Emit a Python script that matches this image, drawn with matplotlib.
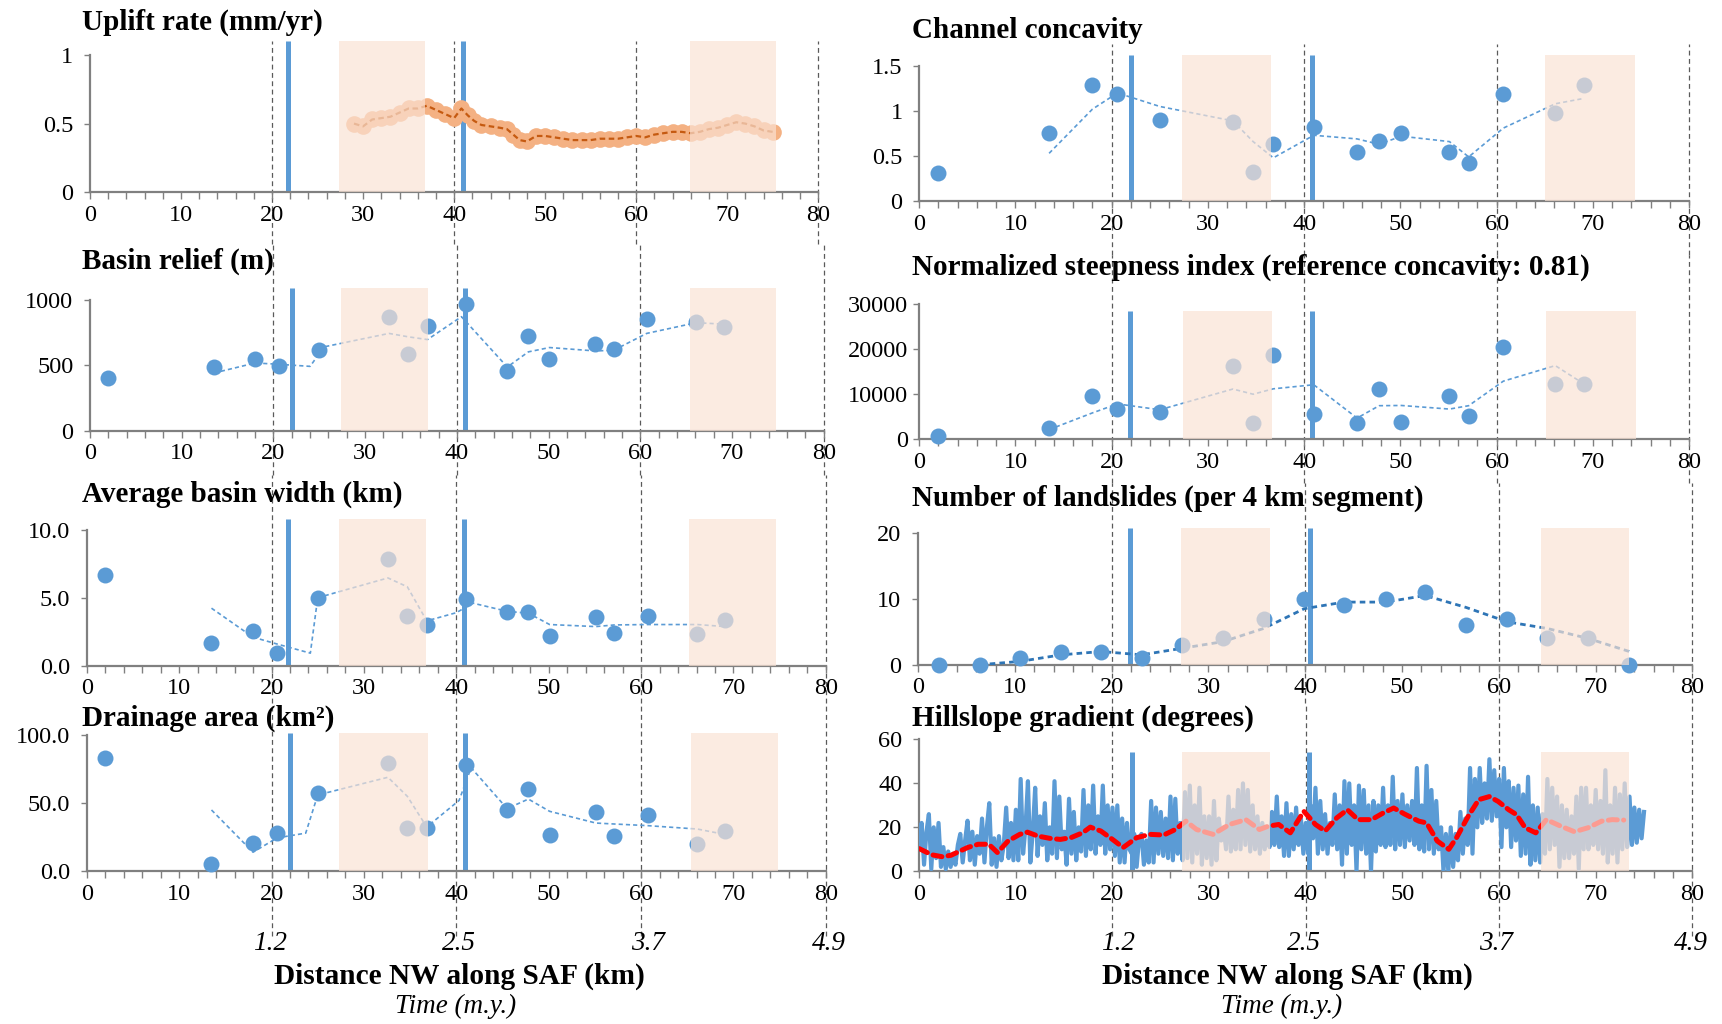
import numpy as np
import matplotlib
matplotlib.use("Agg")
import matplotlib.pyplot as plt
from matplotlib.transforms import blended_transform_factory

plt.rcParams['font.family'] = ['Liberation Serif', 'DejaVu Serif']
plt.rcParams['lines.scale_dashes'] = False

# ---------------- data ----------------
uplift_x = [29, 30, 31, 32, 33, 34, 35, 36, 37, 38, 39, 40, 40.8, 41.5, 42.2, 43, 44, 45, 45.8,
            46.5, 47.2, 48, 49, 50, 51, 52, 53, 54, 55, 56, 57, 58, 59, 60, 61, 62, 63, 64, 65,
            66, 67, 68, 69, 70, 71, 72, 73, 74, 75]
uplift_y = [0.50, 0.48, 0.53, 0.54, 0.55, 0.58, 0.61, 0.61, 0.63, 0.60, 0.57, 0.54, 0.61, 0.56,
            0.52, 0.49, 0.48, 0.47, 0.46, 0.42, 0.38, 0.37, 0.41, 0.41, 0.40, 0.39, 0.38, 0.38,
            0.38, 0.39, 0.39, 0.39, 0.40, 0.41, 0.40, 0.42, 0.43, 0.44, 0.44, 0.43, 0.44, 0.46,
            0.47, 0.49, 0.51, 0.50, 0.48, 0.45, 0.44]

basin_x = [2.0, 13.5, 18.0, 20.6, 25.0, 32.6, 34.7, 36.8, 41.0, 45.5, 47.8, 50.1, 55.1, 57.1,
           60.7, 66.1, 69.1]

conc_y = [0.31, 0.75, 1.29, 1.19, 0.90, 0.88, 0.32, 0.63, 0.82, 0.55, 0.67, 0.76, 0.55, 0.42,
          1.19, 0.98, 1.29]
conc_trend_x = [13.5, 18.0, 20.6, 25.0, 32.6, 34.7, 36.8, 41.0, 45.5, 47.8, 50.1, 55.1, 57.1,
                60.7, 66.1, 69.1]
conc_trend_y = [0.53, 1.02, 1.20, 1.05, 0.89, 0.66, 0.48, 0.73, 0.69, 0.63, 0.72, 0.66, 0.49,
                0.81, 1.08, 1.14]

relief_y = [403, 487, 546, 492, 615, 872, 590, 800, 969, 454, 726, 546, 662, 628, 851, 833, 790]
relief_trend_x = [13.5, 18.0, 20.6, 24.0, 25.5, 32.6, 34.7, 36.8, 40.5, 45.5, 47.8, 50.1, 55.1,
                  57.1, 60.7, 66.1, 69.1]
relief_trend_y = [441, 518, 508, 492, 641, 744, 718, 697, 872, 487, 603, 636, 610, 615, 744,
                  826, 815]

ksn_y = [735, 2500, 9560, 6760, 6030, 16320, 3680, 18750, 5660, 3680, 11180, 3820, 9560, 5150,
         20590, 12280, 12280]
ksn_trend_x = [13.5, 18.0, 20.6, 25.0, 32.6, 34.7, 36.8, 41.0, 45.5, 47.8, 50.1, 55.1, 57.1,
               60.7, 66.1, 69.1]
ksn_trend_y = [2200, 5900, 7900, 6600, 11200, 10050, 11250, 12150, 4750, 7500, 7550, 6750, 7500,
               12950, 16400, 12300]

width_y = [6.70, 1.69, 2.54, 0.95, 4.99, 7.82, 3.67, 3.00, 4.94, 3.94, 3.94, 2.18, 3.55, 2.44,
           3.64, 2.35, 3.33]
width_trend_x = [13.5, 18.0, 20.6, 24.2, 25.0, 32.6, 34.7, 36.8, 40.0, 41.8, 45.5, 47.8, 50.1,
                 55.1, 57.1, 60.7, 66.1, 69.1]
width_trend_y = [4.23, 2.10, 1.60, 0.93, 5.00, 6.45, 5.80, 3.30, 3.90, 4.60, 4.00, 3.86, 3.03,
                 2.88, 3.00, 3.03, 3.03, 2.88]

area_y = [83.3, 5.3, 21.1, 27.9, 57.5, 79.6, 32.0, 31.8, 77.9, 45.1, 60.7, 26.7, 43.2, 25.7,
          41.5, 20.1, 29.4]
area_trend_x = [13.5, 18.0, 20.6, 23.7, 25.0, 32.6, 34.7, 36.8, 40.3, 41.6, 45.5, 47.8, 50.1,
                55.1, 57.1, 60.7, 66.1, 69.1]
area_trend_y = [45, 14, 24.5, 28, 56, 69, 55, 32.5, 52, 76, 46, 53, 44, 35.4, 34.7, 33.5, 31, 27]

slides_x = [2.2, 6.4, 10.5, 14.8, 18.9, 23.1, 27.3, 31.5, 35.7, 39.9, 44.0, 48.3, 52.4, 56.6,
            60.9, 65.0, 69.2, 73.5]
slides_y = [0, 0, 1, 2, 2, 1, 3, 4, 7, 10, 9, 10, 11, 6, 7, 4, 4, 0]
slides_trend_x = [6.4, 10.5, 14.8, 18.9, 23.1, 27.3, 31.5, 35.7, 39.9, 44.0, 48.3, 52.4, 56.6,
                  60.9, 65.0, 69.2, 73.5]
slides_trend_y = [0, 0.5, 1.5, 2, 1.5, 2.5, 3.5, 5.5, 8.5, 9.5, 9.5, 10.5, 8.7, 6.5, 5.5, 4, 2]

# hillslope gradient profile, sampled every 0.25 km from 0 to 75 km
hs_y = [10, 22, 3, 18, 26, 1, 20, 6, 22, 2, 11, 1, 9, 2, 8, 3, 12, 17, 4, 14,
        23, 5, 18, 3, 16, 8, 24, 4, 20, 31, 3, 15, 2, 16, 5, 12, 29, 6, 22, 5,
        28, 5, 42, 8, 20, 41, 4, 18, 38, 7, 25, 12, 31, 5, 20, 8, 41, 6, 34, 10,
        18, 3, 33, 8, 27, 5, 20, 9, 37, 7, 30, 10, 39, 8, 25, 12, 39, 8, 30, 10,
        29, 7, 30, 4, 24, 4, 22, 10, 8, 17, 2, 15, 17, 3, 14, 4, 32, 4, 29, 8,
        27, 7, 24, 6, 34, 5, 33, 8, 22, 5, 36, 6, 39, 4, 30, 8, 38, 3, 25, 6,
        25, 3, 32, 5, 24, 14, 20, 10, 34, 9, 28, 10, 37, 10, 40, 12, 37, 9, 30, 10,
        25, 8, 22, 10, 20, 11, 27, 12, 34, 11, 25, 7, 31, 7, 26, 10, 29, 12, 24, 8,
        22, 8, 30, 15, 38, 8, 32, 10, 26, 8, 22, 12, 35, 10, 30, 3, 41, 8, 40, 12,
        30, 0, 39, 10, 37, 8, 30, 0, 32, 9, 30, 12, 38, 11, 30, 12, 43, 10, 32, 12,
        35, 11, 30, 14, 32, 12, 47, 10, 30, 9, 48, 10, 37, 8, 32, 10, 20, 0, 17, 0,
        20, 2, 17, 5, 27, 8, 24, 12, 47, 8, 42, 20, 47, 22, 40, 24, 51, 23, 46, 25,
        42, 11, 47, 20, 41, 11, 38, 14, 39, 7, 35, 8, 43, 3, 30, 5, 29, 4, 26, 8,
        42, 10, 38, 12, 34, 2, 30, 6, 28, 6, 25, 8, 34, 1, 38, 10, 38, 10, 30, 12,
        37, 10, 32, 8, 46, 4, 30, 8, 38, 4, 35, 10, 40, 11, 34, 12, 29, 13, 28, 15,
        27]
hs_x = np.arange(len(hs_y)) * 0.25

hs_smooth_x = [0, 1.3, 2.4, 3.3, 5.0, 6.1, 7.2, 8.1, 9.2, 10.4, 11.2, 12.3, 13.5, 14.6, 15.7,
               16.9, 17.7, 18.8, 20.0, 21.1, 22.5, 23.9, 25.3, 26.5, 27.6, 28.7, 30.4, 32.1,
               33.8, 35.2, 36.1, 37.2, 38.4, 39.8, 41.0, 42.0, 43.2, 44.3, 45.4, 46.8, 48.0,
               49.1, 50.2, 51.7, 52.5, 53.6, 54.8, 55.6, 56.8, 57.9, 59.0, 59.9, 61.0, 61.8,
               62.7, 63.8, 64.9, 66.4, 67.8, 69.2, 70.6, 71.7, 72.9]
hs_smooth_y = [10.3, 7.5, 6.6, 7.3, 10.8, 12.3, 12.3, 8.5, 13.8, 16.8, 17.8, 16.0, 15.0, 14.5,
               15.3, 17.5, 20.1, 18.3, 14.5, 10.8, 15.3, 16.8, 16.5, 19.0, 22.8, 19.0, 16.8,
               21.3, 23.5, 19.0, 20.5, 21.3, 17.5, 27.3, 21.3, 18.3, 24.3, 28.0, 23.5, 23.5,
               26.5, 28.8, 26.1, 22.8, 22.0, 13.8, 10.0, 15.3, 25.0, 32.6, 34.0, 31.8, 28.0,
               25.8, 19.8, 17.5, 23.5, 20.5, 18.0, 19.8, 22.8, 23.5, 23.3]

x_ticks = [0, 10, 20, 30, 40, 50, 60, 70, 80]
time_pos = [20, 40, 60, 80]
time_labels = ['1.2', '2.5', '3.7', '4.9']

# ---------------- style ----------------
BLUE = '#5B9BD5'
DBLUE = '#2E75B6'
ORANGE = '#F4B183'
DORANGE = '#C55A11'
SHADE = '#FAE2D4'
SHADE_ALPHA = 0.69
SPINE = '#808080'
TICK_FS = 17.5
MS = 11.5

fig = plt.figure(figsize=(17.22, 10.24), dpi=100)
W, H = 1568.0, 932.0


def make_panel(x0, x1, ybot, yref_px, yref_val, ytop_val, yticks, ylabels,
               seg_top, seg_bot, ypad=8):
    ppu = (ybot - yref_px) / yref_val
    ytop_px = ybot - ytop_val * ppu
    ax = fig.add_axes([x0 / W, 1 - ybot / H, (x1 - x0) / W, (ybot - ytop_px) / H])
    ax.patch.set_alpha(0)
    ax.set_xlim(0, 80)
    ax.set_ylim(0, ytop_val)
    for s in ['top', 'right']:
        ax.spines[s].set_visible(False)
    for s in ['left', 'bottom']:
        ax.spines[s].set_color(SPINE)
        ax.spines[s].set_linewidth(1.6)
    ax.spines['left'].set_bounds(0, yticks[-1])
    ax.set_xticks(x_ticks)
    ax.set_xticks(np.arange(0, 81, 2), minor=True)
    ax.set_yticks(yticks)
    ax.set_yticklabels(ylabels)
    ax.tick_params(axis='x', which='both', direction='out', length=5, width=1,
                   color=SPINE, labelsize=TICK_FS, pad=4)
    ax.tick_params(axis='y', which='both', direction='out', length=4, width=1,
                   color=SPINE, labelsize=TICK_FS, pad=ypad)
    # dashed time lines running through this panel's band
    tr = blended_transform_factory(ax.transData, fig.transFigure)
    for v in time_pos:
        ax.plot([v, v], [1 - seg_bot / H, 1 - seg_top / H], transform=tr,
                color='#5A5A5A', lw=0.9, dashes=(3.5, 2.5), clip_on=False, zorder=0.5)
    return ax


def decorate(ax, shades, faults, top):
    for f in faults:
        ax.plot([f, f], [0, top], color=BLUE, lw=3.6, solid_capstyle='butt', zorder=2,
                clip_on=False)
    for a, b in shades:
        ax.fill_between([a, b], [0, 0], [top, top], color=SHADE, alpha=SHADE_ALPHA,
                        lw=0, zorder=6)


def basin_points(ax, x, y, tx, ty, trend_color=BLUE, tlw=1.2, tdash=(3, 2.2)):
    ax.plot(tx, ty, color=trend_color, lw=tlw, dashes=tdash, zorder=3)
    ax.plot(x, y, 'o', color=BLUE, ms=MS, mew=0, zorder=4, clip_on=False)


L_seg = [37, 222, 432, 640, 852]
R_seg = [40, 232, 440, 640, 852]

# ---- left column
ax = make_panel(82, 745, 175, 50, 1.0, 1.1, [0, 0.5, 1], ['0', '0.5', '1'], L_seg[0], L_seg[1])
ax.plot(uplift_x, uplift_y, 'o', color=ORANGE, ms=12, mew=0, zorder=3)
ax.plot(uplift_x, uplift_y, color=DORANGE, lw=1.6, dashes=(4, 2.5), zorder=4)
decorate(ax, [(27.3, 36.8), (65.9, 75.4)], [21.8, 41.0], 1.1)

ax = make_panel(82, 750, 392, 273, 1000, 1092, [0, 500, 1000], ['0', '500', '1000'],
                L_seg[1], L_seg[2])
basin_points(ax, basin_x, relief_y, relief_trend_x, relief_trend_y)
decorate(ax, [(27.4, 36.9), (65.4, 74.8)], [22.0, 40.9], 1092)

ax = make_panel(79, 752, 606, 482, 10, 10.75, [0, 5, 10], ['0.0', '5.0', '10.0'],
                L_seg[2], L_seg[3])
basin_points(ax, basin_x, width_y, width_trend_x, width_trend_y)
decorate(ax, [(27.3, 36.7), (65.2, 74.6)], [21.8, 40.8], 10.75)

ax = make_panel(79, 752, 793, 669, 100, 101.5, [0, 50, 100], ['0.0', '50.0', '100.0'],
                L_seg[3], L_seg[4])
basin_points(ax, basin_x, area_y, area_trend_x, area_trend_y)
decorate(ax, [(27.3, 36.9), (65.4, 74.8)], [22.0, 40.9], 101.5)

# ---- right column
ax = make_panel(837, 1538, 183, 60, 1.5, 1.62, [0, 0.5, 1, 1.5], ['0', '0.5', '1', '1.5'],
                R_seg[0], R_seg[1])
basin_points(ax, basin_x, conc_y, conc_trend_x, conc_trend_y)
decorate(ax, [(27.3, 36.6), (65.0, 74.4)], [22.0, 40.8], 1.62)

ax = make_panel(837, 1538, 400, 277, 30000, 30000, [0, 10000, 20000, 30000],
                ['0', '10000', '20000', '30000'], R_seg[1], R_seg[2], ypad=4)
basin_points(ax, basin_x, ksn_y, ksn_trend_x, ksn_trend_y)
decorate(ax, [(27.4, 36.7), (65.1, 74.5)], [21.9, 40.8], 28500)

ax = make_panel(836, 1541, 605, 485, 20, 20.8, [0, 10, 20], ['0', '10', '20'],
                R_seg[2], R_seg[3])
basin_points(ax, slides_x, slides_y, slides_trend_x, slides_trend_y,
             trend_color=DBLUE, tlw=2.0, tdash=(4, 3))
decorate(ax, [(27.2, 36.4), (64.4, 73.5)], [21.9, 40.5], 20.8)

ax = make_panel(837, 1541, 793, 673, 60, 60, [0, 20, 40, 60], ['0', '20', '40', '60'],
                R_seg[3], R_seg[4])
ax.plot(hs_x, hs_y, color=BLUE, lw=3.0, zorder=3)
ax.plot(hs_smooth_x, hs_smooth_y, color='#FF0000', lw=3.6, dashes=(6.5, 4.5),
        dash_capstyle='round', zorder=4)
decorate(ax, [(27.2, 36.3), (64.3, 73.4)], [22.0, 40.3], 54.5)

# ---- titles
titles = [
    ("Uplift rate (mm/yr)", 75, 20),
    ("Channel concavity", 830, 28),
    ("Basin relief (m)", 75, 238),
    ("Normalized steepness index (reference concavity: 0.81)", 830, 243),
    ("Average basin width (km)", 75, 450),
    ("Number of landslides (per 4 km segment)", 830, 454),
    ("Drainage area (km²)", 75, 654),
    ("Hillslope gradient (degrees)", 830, 654),
]
for t, x, y in titles:
    fig.text(x / W, 1 - y / H, t, fontsize=21, fontweight='bold', ha='left', va='center')

# ---- time labels and axis labels
time_label_px = [[246, 418, 590, 755], [1018, 1187, 1362, 1540]]
for xs in time_label_px:
    for xp, lab in zip(xs, time_labels):
        fig.text(xp / W, 1 - 859 / H, lab, fontsize=19.5, style='italic',
                 ha='center', va='center')
for cx, tx in [(418, 415), (1172, 1167)]:
    fig.text(cx / W, 1 - 889 / H, "Distance NW along SAF (km)", fontsize=21.2,
             fontweight='bold', ha='center', va='center')
    fig.text(tx / W, 1 - 916 / H, "Time (m.y.)", fontsize=19.5, style='italic',
             ha='center', va='center')

fig.savefig('out.png', dpi=100, facecolor='white')
